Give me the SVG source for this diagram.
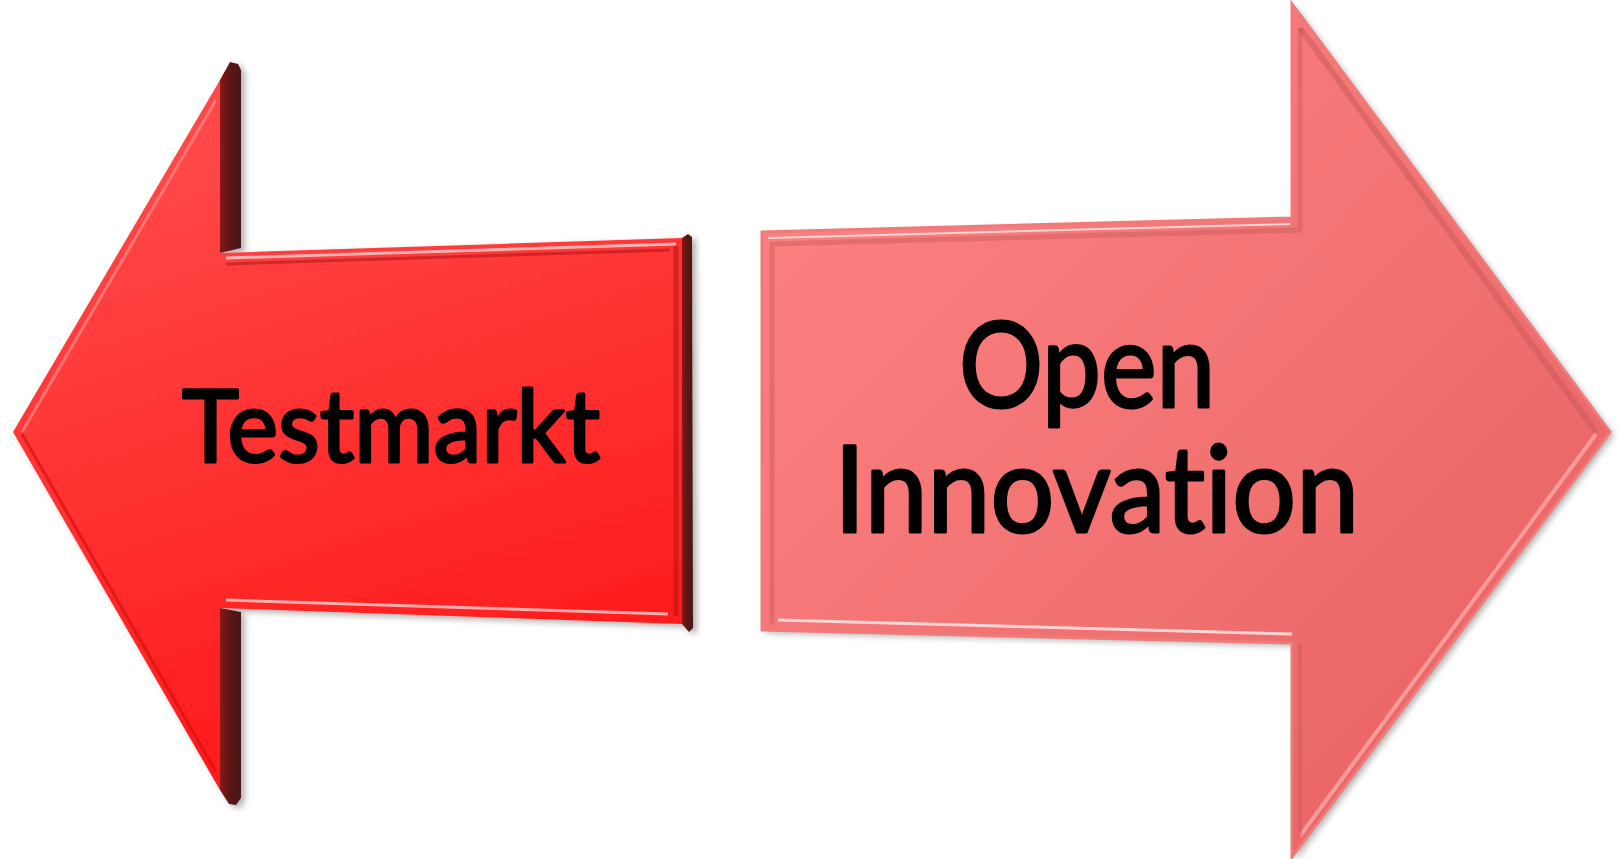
<svg xmlns="http://www.w3.org/2000/svg" width="1619" height="859" viewBox="0 0 1619 859">
  <style>
    .lbl { font-family: Lato, "Open Sans", "Liberation Sans", sans-serif; font-weight: 400; fill: #000; stroke: #000; stroke-width: 3; stroke-linejoin: round; font-variant-ligatures: none; font-feature-settings: "liga" 0; }
  </style>
  <defs>
    <linearGradient id="gL" x1="0" y1="0" x2="0.3" y2="1">
      <stop offset="0" stop-color="#ff5050"/>
      <stop offset="1" stop-color="#ff1a1a"/>
    </linearGradient>
    <linearGradient id="gR" x1="0" y1="0" x2="1" y2="1">
      <stop offset="0" stop-color="#ff8585"/>
      <stop offset="1" stop-color="#e76060"/>
    </linearGradient>
    <linearGradient id="gSide" x1="0" y1="0" x2="1" y2="0">
      <stop offset="0" stop-color="#8a1a1a"/>
      <stop offset="0.5" stop-color="#5a1515"/>
      <stop offset="1" stop-color="#4a1818"/>
    </linearGradient>
    <filter id="sh" x="-5%" y="-5%" width="115%" height="115%">
      <feDropShadow dx="4" dy="3" stdDeviation="3" flood-color="#000" flood-opacity="0.3"/>
    </filter>
  </defs>

  <g id="node-testmarkt">
    <g filter="url(#sh)">
      <polygon points="220,80 230,62 238,64 241,70 241,248 220,253" fill="url(#gSide)"/>
      <polygon points="220,608 241,612 241,798 236,805 229,804 220,790" fill="url(#gSide)"/>
      <polygon points="682,238 688,234 692,237 693,628 689,632 682,624" fill="url(#gSide)"/>
      <polygon points="13,432 220,80 220,253 682,238 682,624 220,608 220,790" fill="url(#gL)"/>
    </g>
    <polyline points="22,432 216,100" fill="none" stroke="#ff8a8a" stroke-width="3" opacity="0.7"/>
    <polyline points="22,434 216,772" fill="none" stroke="#d81010" stroke-width="3" opacity="0.7"/>
    <polyline points="226,258 676,244" fill="none" stroke="#ffd0d0" stroke-width="3" opacity="0.8"/>
    <polyline points="226,600 668,614" fill="none" stroke="#ffd0d0" stroke-width="3" opacity="0.8"/>
    <polyline points="226,264 670,250" fill="none" stroke="#a81010" stroke-width="3" opacity="0.5"/>
    <polyline points="676,246 676,616" fill="none" stroke="#b01010" stroke-width="5" opacity="0.5"/>
    <text class="lbl" x="182" y="462" font-size="100" textLength="418" lengthAdjust="spacingAndGlyphs">Testmarkt</text>
  </g>

  <g id="node-open-innovation">
    <polygon points="762,232 1292,218 1292,4 1610,432 1292,857 1292,643 762,630" fill="url(#gR)" filter="url(#sh)"/>
    <polygon points="762,232 1292,218 1292,4 1610,432 1292,857 1292,643 762,630" fill="none" stroke="#f07a7a" stroke-width="3"/>
    <polyline points="772,624 772,244 1300,230 1300,28" fill="none" stroke="#c85a5a" stroke-width="5" opacity="0.45"/>
    <polyline points="1300,28 1596,432" fill="none" stroke="#c05656" stroke-width="6" opacity="0.45"/>
    <polyline points="1596,434 1300,836" fill="none" stroke="#ffa8a8" stroke-width="4" opacity="0.8"/>
    <polyline points="778,620 1292,634" fill="none" stroke="#ffe0e0" stroke-width="3" opacity="0.9"/>
    <polyline points="768,238 1290,224" fill="none" stroke="#ffe0e0" stroke-width="2" opacity="0.9"/>
    <polyline points="1300,645 1300,836" fill="none" stroke="#c85a5a" stroke-width="4" opacity="0.45"/>
    <text class="lbl" x="959" y="407" font-size="118" textLength="256" lengthAdjust="spacingAndGlyphs">Open</text>
    <text class="lbl" x="834" y="532" font-size="120" textLength="525" lengthAdjust="spacingAndGlyphs">Innovation</text>
  </g>

  <g id="connectors"></g>
</svg>
